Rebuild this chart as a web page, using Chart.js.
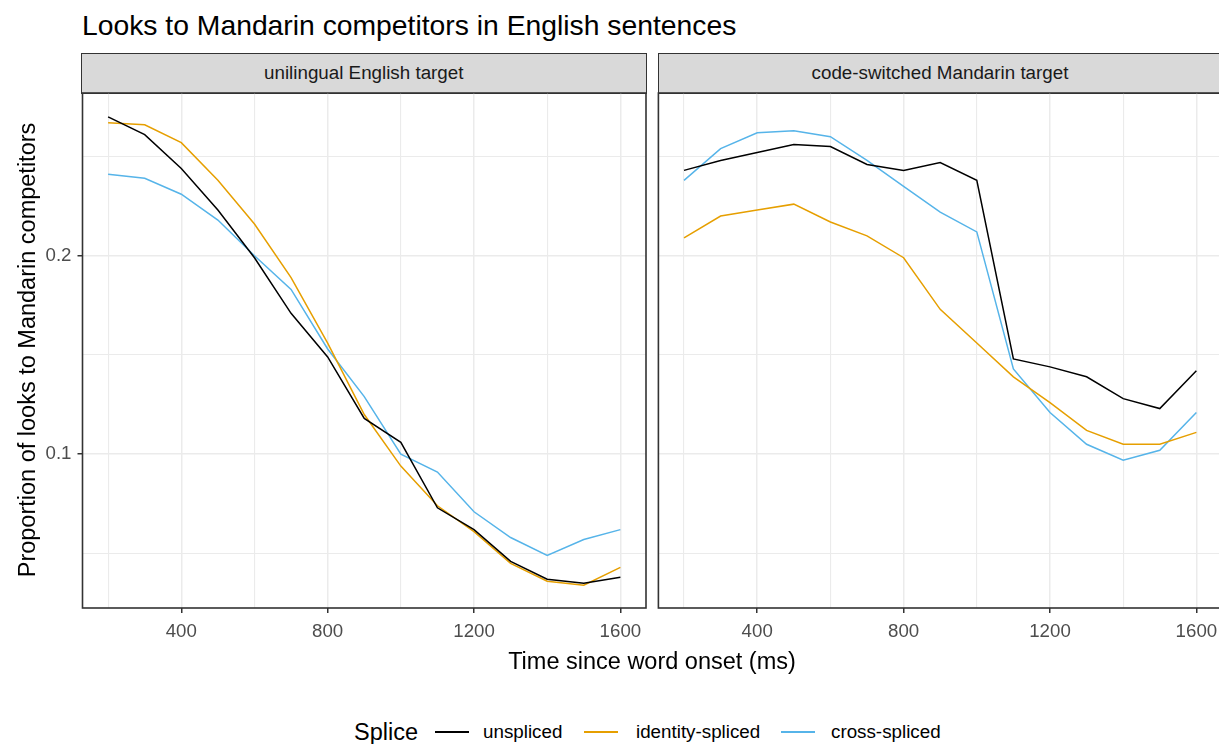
<!DOCTYPE html>
<html>
<head>
<meta charset="utf-8">
<script src="https://cdn.jsdelivr.net/npm/chart.js@4.4.1/dist/chart.umd.min.js"></script>
<style>
  html, body { margin: 0; padding: 0; width: 1219px; height: 744px; overflow: hidden; background: #fff; }
  body { position: relative; font-family: "Liberation Sans", Arial, sans-serif; }
  .abs { position: absolute; white-space: nowrap; }
  canvas { position: absolute; }
  .strip { position: absolute; background: #D9D9D9; border: 1.6px solid #333; box-sizing: border-box;
           font-size: 18.8px; color: #1A1A1A; text-align: center; line-height: 37px; }
  .key { position: absolute; height: 1.6px; width: 34px; }
  .lab { position: absolute; font-size: 18.8px; color: #000; line-height: 22px; }
</style>
</head>
<body>
<div class="abs" id="title" style="left:82px; top:8px; font-size:28.3px; line-height:34px; color:#000;">Looks to Mandarin competitors in English sentences</div>

<div class="strip" style="left:81px; top:53px; width:565.5px; height:41px;">unilingual English target</div>
<div class="strip" style="left:658px; top:53px; width:580px; height:41px; padding-right:16px;">code-switched Mandarin target</div>

<canvas id="leftPanel" width="652" height="575" style="left:0; top:85px;"></canvas>
<canvas id="rightPanel" width="575" height="575" style="left:652px; top:85px;"></canvas>

<div class="abs" id="ytitle" style="left:-223px; top:337px; width:500px; font-size:23.5px; line-height:26px; text-align:center; color:#000; transform:rotate(-90deg);">Proportion of looks to Mandarin competitors</div>
<div class="abs" style="left:402px; top:648px; width:500px; font-size:23.5px; line-height:26px; text-align:center; color:#000;">Time since word onset (ms)</div>

<div class="abs" style="left:354px; top:718px; font-size:23.5px; line-height:28px; color:#000;">Splice</div>
<div class="key" style="left:435px; top:731px; background:#000000;"></div>
<div class="lab" style="left:483px; top:721px;">unspliced</div>
<div class="key" style="left:584px; top:731px; background:#E69F00;"></div>
<div class="lab" style="left:636px; top:721px;">identity-spliced</div>
<div class="key" style="left:781px; top:731px; background:#56B4E9;"></div>
<div class="lab" style="left:831px; top:721px;">cross-spliced</div>

<script>
// time bins (ms since word onset)
const timeBins = [200, 300, 400, 500, 600, 700, 800, 900, 1000, 1100, 1200, 1300, 1400, 1500, 1600];

// unilingual English target
const engUnspliced = [0.270, 0.261, 0.244, 0.223, 0.199, 0.171, 0.149, 0.118, 0.106, 0.073, 0.062, 0.046, 0.037, 0.035, 0.038];
const engIdentity  = [0.267, 0.266, 0.257, 0.238, 0.216, 0.189, 0.156, 0.120, 0.094, 0.074, 0.061, 0.045, 0.036, 0.034, 0.043];
const engCross     = [0.241, 0.239, 0.231, 0.218, 0.200, 0.183, 0.153, 0.129, 0.100, 0.091, 0.071, 0.058, 0.049, 0.057, 0.062];

// code-switched Mandarin target
const manUnspliced = [0.243, 0.248, 0.252, 0.256, 0.255, 0.246, 0.243, 0.247, 0.238, 0.148, 0.144, 0.139, 0.128, 0.123, 0.142];
const manIdentity  = [0.209, 0.220, 0.223, 0.226, 0.217, 0.210, 0.199, 0.173, 0.156, 0.139, 0.126, 0.112, 0.105, 0.105, 0.111];
const manCross     = [0.238, 0.254, 0.262, 0.263, 0.260, 0.248, 0.235, 0.222, 0.212, 0.143, 0.121, 0.105, 0.097, 0.102, 0.121];

const spliceLabels = ['unspliced', 'identity-spliced', 'cross-spliced'];
const spliceColors = ['#000000', '#E69F00', '#56B4E9'];

// axis breaks
const xMajor = [400, 800, 1200, 1600];
const xMinor = [200, 600, 1000, 1400];
const yMajor = [0.1, 0.2];
const yMinor = [0.05, 0.15, 0.25];

const xRange = [130, 1670];
const yRange = [0.0225, 0.282];

const FONT = '"Liberation Sans", Arial, sans-serif';

// panel border like theme_bw
const panelBorder = {
    id: 'panelBorder',
    afterDatasetsDraw(chart) {
        const a = chart.chartArea;
        const ctx = chart.ctx;
        ctx.save();
        ctx.strokeStyle = '#333333';
        ctx.lineWidth = 1.6;
        ctx.strokeRect(a.left, a.top, a.right - a.left, a.bottom - a.top);
        ctx.restore();
    }
};

function isMajor(list, v) {
    return list.some(m => Math.abs(m - v) < 1e-9);
}

function makePanel(canvasId, series, showY, yWidth, padRight) {
    const datasets = series.map((vals, i) => ({
        label: spliceLabels[i],
        data: timeBins.map((t, j) => ({ x: t, y: vals[j] })),
        borderColor: spliceColors[i],
        borderWidth: 1.5,
        pointRadius: 0,
        fill: false,
        tension: 0
    }));

    return new Chart(document.getElementById(canvasId), {
        type: 'line',
        data: { datasets: datasets },
        options: {
            responsive: false,
            animation: false,
            events: [],
            layout: { padding: { top: 8, right: padRight, left: 0, bottom: 0 } },
            plugins: { legend: { display: false }, tooltip: { enabled: false } },
            scales: {
                x: {
                    type: 'linear',
                    min: xRange[0],
                    max: xRange[1],
                    afterBuildTicks: function(scale) {
                        scale.ticks = xMinor.concat(xMajor).sort((a, b) => a - b).map(v => ({ value: v }));
                    },
                    afterFit: function(scale) {
                        scale.height = 52;
                        scale.paddingLeft = 0;
                        scale.paddingRight = 0;
                    },
                    ticks: {
                        autoSkip: false,
                        maxRotation: 0,
                        padding: 8,
                        color: '#4D4D4D',
                        font: { family: FONT, size: 18.7 },
                        callback: function(v) { return isMajor(xMajor, v) ? String(v) : ''; }
                    },
                    grid: {
                        color: '#EBEBEB',
                        lineWidth: ctx => isMajor(xMajor, ctx.tick.value) ? 1.5 : 1.1,
                        tickLength: 5,
                        tickColor: ctx => isMajor(xMajor, ctx.tick.value) ? '#333333' : 'rgba(0,0,0,0)',
                        tickWidth: 1.5
                    },
                    border: { display: false }
                },
                y: {
                    type: 'linear',
                    min: yRange[0],
                    max: yRange[1],
                    afterBuildTicks: function(scale) {
                        scale.ticks = yMinor.concat(yMajor).sort((a, b) => a - b).map(v => ({ value: v }));
                    },
                    afterFit: function(scale) {
                        scale.width = yWidth;
                        scale.paddingTop = 0;
                        scale.paddingBottom = 0;
                    },
                    ticks: {
                        display: showY,
                        autoSkip: false,
                        padding: 6,
                        color: '#4D4D4D',
                        font: { family: FONT, size: 18.7 },
                        callback: function(v) { return isMajor(yMajor, v) ? v.toFixed(1) : ''; }
                    },
                    grid: {
                        color: '#EBEBEB',
                        lineWidth: ctx => isMajor(yMajor, ctx.tick.value) ? 1.5 : 1.1,
                        drawTicks: showY,
                        tickLength: 5,
                        tickColor: ctx => isMajor(yMajor, ctx.tick.value) ? '#333333' : 'rgba(0,0,0,0)',
                        tickWidth: 1.5
                    },
                    border: { display: false }
                }
            }
        },
        plugins: [panelBorder]
    });
}

makePanel('leftPanel', [engUnspliced, engIdentity, engCross], true, 82.5, 6);
makePanel('rightPanel', [manUnspliced, manIdentity, manCross], false, 6.4, 5);
</script>
</body>
</html>
